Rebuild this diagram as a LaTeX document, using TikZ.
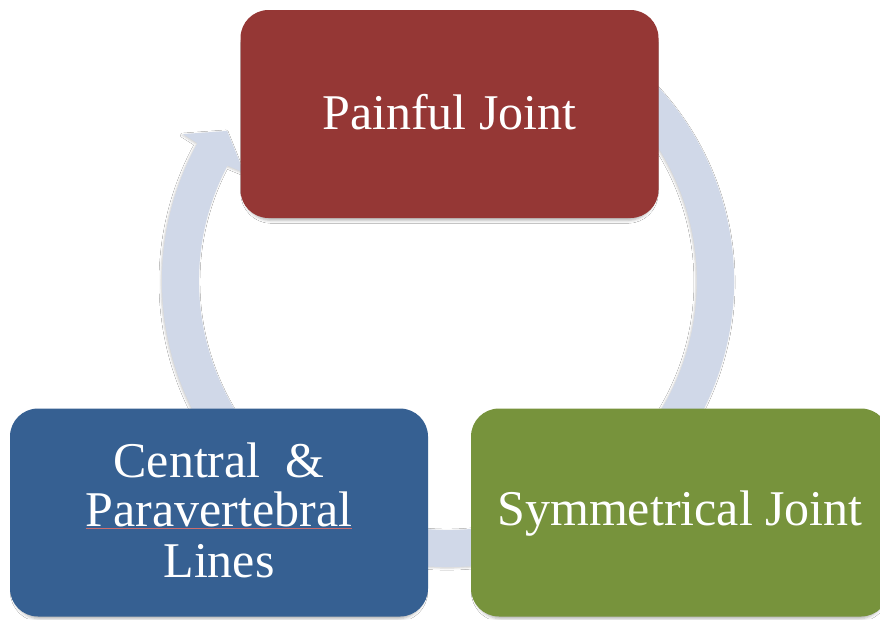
\documentclass[tikz,border=0pt]{standalone}
\usepackage{fontspec}
\setmainfont{Liberation Serif}
\usetikzlibrary{shadows.blur}
\definecolor{boxred}{RGB}{149,55,53}
\definecolor{boxblue}{RGB}{54,96,146}
\definecolor{boxgreen}{RGB}{119,147,60}
\definecolor{ringcol}{RGB}{208,216,232}
\definecolor{spellred}{RGB}{205,110,110}
\tikzset{
  boxstyle/.style={rectangle, rounded corners=28pt, minimum width=418pt,
    minimum height=208pt, inner sep=0pt, draw=none,
    blur shadow={shadow xshift=0pt, shadow yshift=-4pt, shadow scale=0.985, shadow blur radius=3pt, shadow opacity=30}},
  labelstyle/.style={text=white, font=\fontsize{50}{51}\selectfont, anchor=base, inner sep=0pt},
}
\begin{document}
\begin{tikzpicture}[x=1pt, y=-1pt]
\useasboundingbox[fill=white] (0,0) rectangle (880,619);
% circular arrow
\begin{scope}[shift={(448,281)}, x=1pt, y=1pt]
  \fill[ringcol, blur shadow={shadow xshift=-1pt, shadow yshift=-1pt, shadow blur radius=2pt, shadow opacity=20}]
    (65:286) arc[start angle=65, end angle=-208.8, radius=286]
    -- (151:303) -- (145.8:267) -- (152:231) -- (152.4:249)
    arc[start angle=-207.6, end angle=65, radius=249] -- cycle;
\end{scope}
% boxes
\node[boxstyle, fill=boxred] (pain) at (449.5,114) {};
\node[boxstyle, fill=boxblue] (central) at (219,512.5) {};
\node[boxstyle, fill=boxgreen] (sym) at (680,512.5) {};
% labels
\node[labelstyle] (painT) at (449.5,129) {Painful Joint};
\node[labelstyle] (symT) at (680,525) {Symmetrical Joint};
\node[labelstyle] (cenT1) at (219,477) {Central\ \ \&};
\node[labelstyle] (cenT2) at (219,526) {Paravertebral};
\node[labelstyle] (cenT3) at (219,577) {Lines};
\draw[spellred, line width=0.7pt] ([yshift=-2.5pt]cenT2.base west) -- ([yshift=-2.5pt]cenT2.base east);
\end{tikzpicture}
\end{document}
